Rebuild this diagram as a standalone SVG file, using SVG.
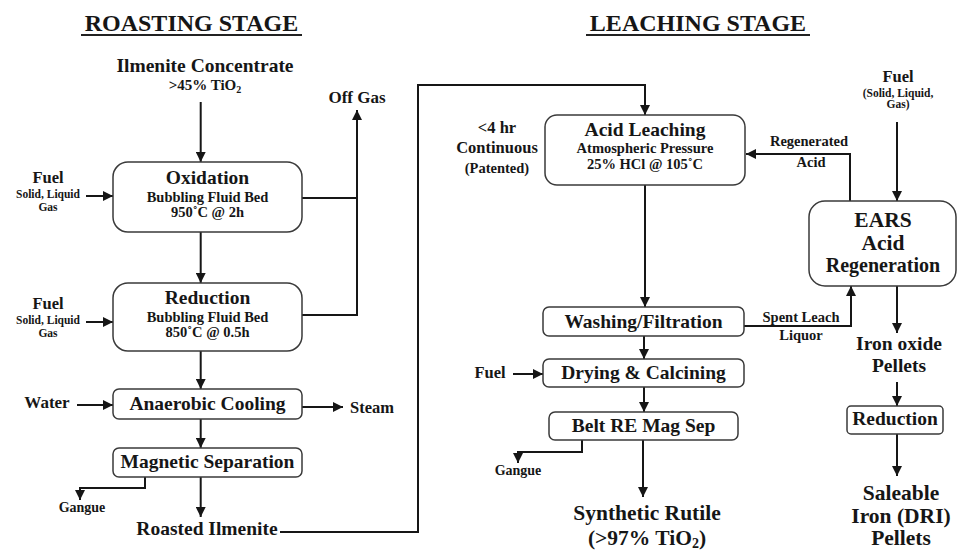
<svg xmlns="http://www.w3.org/2000/svg" width="958" height="550" viewBox="0 0 958 550">
<style>
text{font-family:"Liberation Serif","Times New Roman",serif;font-weight:bold;fill:#161616;text-anchor:middle}
.box{fill:#fff;stroke:#3a3a3a;stroke-width:1.5}
.ln{fill:none;stroke:#161616;stroke-width:2}
.ul{stroke:#222;stroke-width:1.8}
.s24{font-size:24px}.s21{font-size:21.5px}.s20{font-size:20px}.s19{font-size:19.5px}.s17{font-size:17px}.s16{font-size:16.5px}.s15{font-size:15px}.s14{font-size:14.5px}.s13{font-size:14px}.s11{font-size:11.5px}
</style>
<defs>
<marker id="ah" viewBox="0 0 10 10" refX="10" refY="5" markerWidth="10" markerHeight="10" markerUnits="userSpaceOnUse" orient="auto">
<path d="M0,0 L10,5 L0,10 z" fill="#161616"/>
</marker>
</defs>
<rect width="958" height="550" fill="#fff"/>

<g id="title-roasting"><text class="s24" x="191.5" y="31">ROASTING STAGE</text><line class="ul" x1="81" y1="35" x2="302" y2="35"/></g>
<g id="title-leaching"><text class="s24" x="698" y="31">LEACHING STAGE</text><line class="ul" x1="586" y1="35" x2="810" y2="35"/></g>

<g id="connectors">
<path class="ln" marker-end="url(#ah)" d="M200.7,102 V162"/>
<path class="ln" marker-end="url(#ah)" d="M86,196 H113"/>
<path class="ln" d="M302,198 H357"/>
<path class="ln" marker-end="url(#ah)" d="M302,315 H357 V110"/>
<path class="ln" marker-end="url(#ah)" d="M200.7,232 V283"/>
<path class="ln" marker-end="url(#ah)" d="M86,322 H113"/>
<path class="ln" marker-end="url(#ah)" d="M200.7,351 V389"/>
<path class="ln" marker-end="url(#ah)" d="M77,405 H113"/>
<path class="ln" marker-end="url(#ah)" d="M302,407 H343"/>
<path class="ln" marker-end="url(#ah)" d="M200.7,419 V448"/>
<path class="ln" marker-end="url(#ah)" d="M145,477 V488 H80 V500"/>
<path class="ln" marker-end="url(#ah)" d="M200.7,477 V517"/>
<path class="ln" marker-end="url(#ah)" d="M280,532 H418 V85 H645 V115"/>
<path class="ln" marker-end="url(#ah)" d="M645,185 V307"/>
<path class="ln" marker-end="url(#ah)" d="M850,201 V154 H746"/>
<path class="ln" marker-end="url(#ah)" d="M897,122 V201"/>
<path class="ln" marker-end="url(#ah)" d="M744,326 H851 V286"/>
<path class="ln" marker-end="url(#ah)" d="M897,286 V333"/>
<path class="ln" marker-end="url(#ah)" d="M644,336 V359"/>
<path class="ln" marker-end="url(#ah)" d="M513,374 H543"/>
<path class="ln" marker-end="url(#ah)" d="M644,387 V412"/>
<path class="ln" marker-end="url(#ah)" d="M582,440 V452 H518 V463"/>
<path class="ln" marker-end="url(#ah)" d="M643,440 V497"/>
<path class="ln" marker-end="url(#ah)" d="M897,382 V406"/>
<path class="ln" marker-end="url(#ah)" d="M897,434 V476"/>
</g>

<g id="n-ilmenite"><text class="s19" x="205" y="72">Ilmenite Concentrate</text><text class="s15" x="205" y="90">&gt;45% TiO<tspan font-size="10" dy="3">2</tspan></text></g>
<g id="n-oxidation"><rect class="box" x="113" y="162" width="189" height="70" rx="15"/><text class="s19" x="207.5" y="184">Oxidation</text><text class="s14" x="207.5" y="202">Bubbling Fluid Bed</text><text class="s14" x="207.5" y="217">950˚C @ 2h</text></g>
<g id="n-fuel1"><text class="s16" x="48" y="183">Fuel</text><text class="s11" x="48" y="198">Solid, Liquid</text><text class="s11" x="48" y="211">Gas</text></g>
<g id="n-offgas"><text class="s17" x="357" y="103">Off Gas</text></g>
<g id="n-reduction"><rect class="box" x="113" y="283" width="189" height="68" rx="15"/><text class="s19" x="207.5" y="304">Reduction</text><text class="s14" x="207.5" y="322">Bubbling Fluid Bed</text><text class="s14" x="207.5" y="337">850˚C @ 0.5h</text></g>
<g id="n-fuel2"><text class="s16" x="48" y="309">Fuel</text><text class="s11" x="48" y="324">Solid, Liquid</text><text class="s11" x="48" y="337">Gas</text></g>
<g id="n-anaerobic"><rect class="box" x="113" y="389" width="189" height="30" rx="6"/><text class="s19" x="207.5" y="410">Anaerobic Cooling</text></g>
<g id="n-water"><text class="s17" x="47" y="408">Water</text></g>
<g id="n-steam"><text class="s16" x="350" y="413" style="text-anchor:start">Steam</text></g>
<g id="n-magnetic"><rect class="box" x="113" y="448" width="189" height="29" rx="6"/><text class="s19" x="207.5" y="468">Magnetic Separation</text></g>
<g id="n-gangue1"><text class="s13" x="82" y="512">Gangue</text></g>
<g id="n-roasted"><text class="s19" x="207" y="535">Roasted Ilmenite</text></g>

<g id="n-acid"><rect class="box" x="545" y="115" width="200" height="70" rx="12"/><text class="s19" x="645" y="136">Acid Leaching</text><text class="s14" x="645" y="153">Atmospheric Pressure</text><text class="s14" x="645" y="169">25% HCl @ 105˚C</text></g>
<g id="n-time"><text class="s16" x="497" y="133">&lt;4 hr</text><text class="s16" x="497" y="153">Continuous</text><text class="s14" x="497" y="173">(Patented)</text></g>
<g id="n-regen-label"><text class="s14" x="809" y="146">Regenerated</text><text class="s14" x="811" y="167">Acid</text></g>
<g id="n-fuel3"><text class="s16" x="898" y="82">Fuel</text><text class="s11" x="898" y="97">(Solid, Liquid,</text><text class="s11" x="898" y="108">Gas)</text></g>
<g id="n-ears"><rect class="box" x="809" y="201" width="147" height="85" rx="16"/><text class="s21" x="883" y="227">EARS</text><text class="s21" x="883" y="250">Acid</text><text class="s20" x="883" y="272">Regeneration</text></g>
<g id="n-washing"><rect class="box" x="543" y="307" width="201" height="29" rx="6"/><text class="s19" x="643.5" y="328">Washing/Filtration</text></g>
<g id="n-spent"><text class="s14" x="801" y="322">Spent Leach</text><text class="s14" x="801" y="340">Liquor</text></g>
<g id="n-ironoxide"><text class="s19" x="899" y="350">Iron oxide</text><text class="s19" x="899" y="372">Pellets</text></g>
<g id="n-drying"><rect class="box" x="543" y="359" width="201" height="28" rx="6"/><text class="s19" x="643.5" y="379">Drying &amp; Calcining</text></g>
<g id="n-fuel4"><text class="s16" x="490" y="378">Fuel</text></g>
<g id="n-belt"><rect class="box" x="549" y="412" width="189" height="28" rx="6"/><text class="s19" x="643.5" y="432">Belt RE Mag Sep</text></g>
<g id="n-gangue2"><text class="s13" x="518" y="475">Gangue</text></g>
<g id="n-synthetic"><text class="s21" x="647" y="520">Synthetic Rutile</text><text class="s21" x="647" y="545">(&gt;97% TiO<tspan font-size="14" dy="3">2</tspan><tspan dy="-3">)</tspan></text></g>
<g id="n-reduction2"><rect class="box" x="847" y="406" width="96" height="28" rx="4"/><text class="s19" x="895" y="425">Reduction</text></g>
<g id="n-saleable"><text class="s21" x="901" y="500">Saleable</text><text class="s21" x="901" y="523">Iron (DRI)</text><text class="s21" x="901" y="545">Pellets</text></g>
</svg>
